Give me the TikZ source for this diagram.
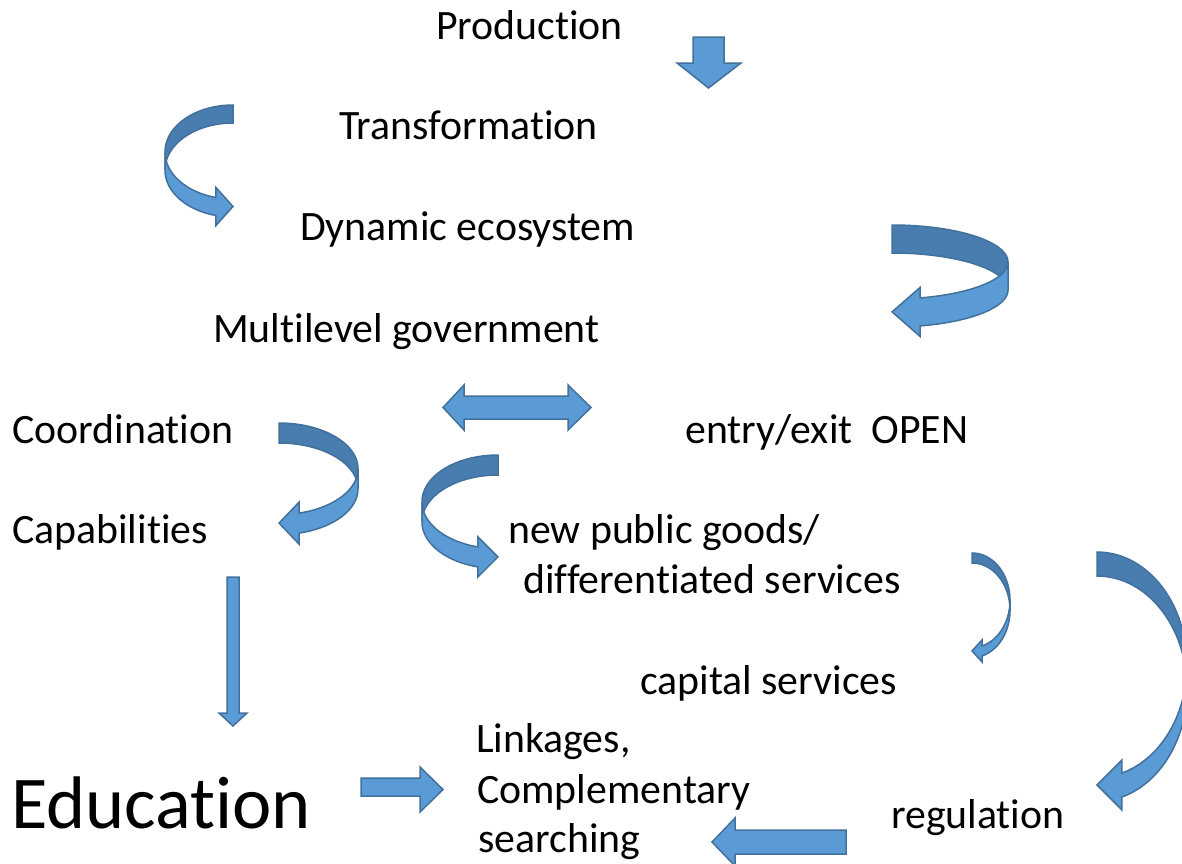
\documentclass[tikz,border=0pt]{standalone}
\usepackage{fontspec}
\setmainfont{Carlito}[RawFeature={-liga;-clig;-dlig;-calt;-hlig;-rlig}]
\definecolor{arrowblue}{HTML}{5B9BD5}
\definecolor{arrowdark}{HTML}{497DB0}
\definecolor{arrowline}{HTML}{41719C}

% curved ribbon arrow: centre, x radius, y radius, thickness, end angle, head extend, head length, mirror
\newcommand{\ribbonarrow}[9]{%
  \begin{scope}[shift={(#1,#2)},xscale=#9]
    \draw[ribbon back] (0,-#4)
      -- plot[domain=270:180,samples=40] ({#3*cos(\x)},{#4*sin(\x)})
      -- plot[domain=180:270,samples=40] ({#3*cos(\x)},{#5+#4*sin(\x)}) -- cycle;
    \draw[ribbon front] (-#3,0)
      -- plot[domain=180:#6,samples=40] ({#3*cos(\x)},{#4*sin(\x)})
      -- ({#3*cos(#6)},{#4*sin(#6)-#7})
      -- ({#3*cos(#6)+#8},{#4*sin(#6)+#5/2})
      -- ({#3*cos(#6)},{#4*sin(#6)+#5+#7})
      -- plot[domain=#6:180,samples=40] ({#3*cos(\x)},{#5+#4*sin(\x)}) -- cycle;
  \end{scope}}

\begin{document}
\begin{tikzpicture}[x=1pt,y=-1pt,line join=miter,
  block arrow/.style={fill=arrowblue,draw=arrowline,line width=1.5pt},
  ribbon front/.style={block arrow},
  ribbon back/.style={fill=arrowdark,draw=arrowline,line width=1.5pt},
  label node/.style={anchor=base west,inner sep=0pt,font=\fontsize{41.8}{50}\selectfont}]

  \clip (0,0) rectangle (1182,863);

  \node[label node] (prod) at (436,39) {Production};
  \node[label node] (trans) at (339,139) {Transformation};
  \node[label node] (eco) at (300,240) {Dynamic ecosystem};
  \node[label node] (gov) at (213,342) {Multilevel government};
  \node[label node] (coord) at (12,443) {Coordination};
  \node[label node] (entry) at (685,443) {entry/exit\ \ OPEN};
  \node[label node] (capab) at (12,543) {Capabilities};
  \node[label node] (goods) at (508,543) {new public goods/};
  \node[label node] (diff) at (523,593) {differentiated services};
  \node[label node] (capital) at (640,694) {capital services};
  \node[label node] (link) at (476,752) {Linkages,};
  \node[label node] (compl) at (477,803) {Complementary};
  \node[label node] (search) at (478,852) {searching};
  \node[label node,font=\fontsize{74.5}{90}\selectfont] (edu) at (11,828) {Education};
  \node[label node] (reg) at (891,828) {regulation};

  % straight block arrows
  \draw[block arrow] (693,37) -- (724,37) -- (724,63) -- (741,63) -- (708.5,88)
    -- (677,63) -- (693,63) -- cycle;
  \draw[block arrow] (443,407.5) -- (464,385) -- (464,396) -- (568,396) -- (568,385)
    -- (591,407.5) -- (568,430) -- (568,419) -- (464,419) -- (464,430) -- cycle;
  \draw[block arrow] (227,577) -- (239,577) -- (239,713) -- (247,713) -- (233,726)
    -- (219,713) -- (227,713) -- cycle;
  \draw[block arrow] (361,778) -- (420,778) -- (420,767) -- (443,789.5) -- (420,812)
    -- (420,796) -- (361,796) -- cycle;
  \draw[block arrow] (712,842) -- (735,818) -- (735,830) -- (846,830) -- (846,854)
    -- (735,854) -- (735,866) -- cycle;

  % curved arrows
  \ribbonarrow{233}{152}{68}{47}{18}{104.5}{10}{17}{1}
  \ribbonarrow{892}{262}{116}{37}{28}{104}{10.5}{28}{-1}
  \ribbonarrow{279}{468.8}{79}{45.8}{20}{104.7}{11}{20}{-1}
  \ribbonarrow{498}{501.8}{76}{46.8}{20}{105.3}{10}{20}{1}
  \ribbonarrow{972}{600.3}{38}{47.3}{10}{105.3}{6}{10}{-1}
  \ribbonarrow{1097}{664.7}{90}{112.7}{24}{106.1}{13}{25}{-1}
\end{tikzpicture}
\end{document}
